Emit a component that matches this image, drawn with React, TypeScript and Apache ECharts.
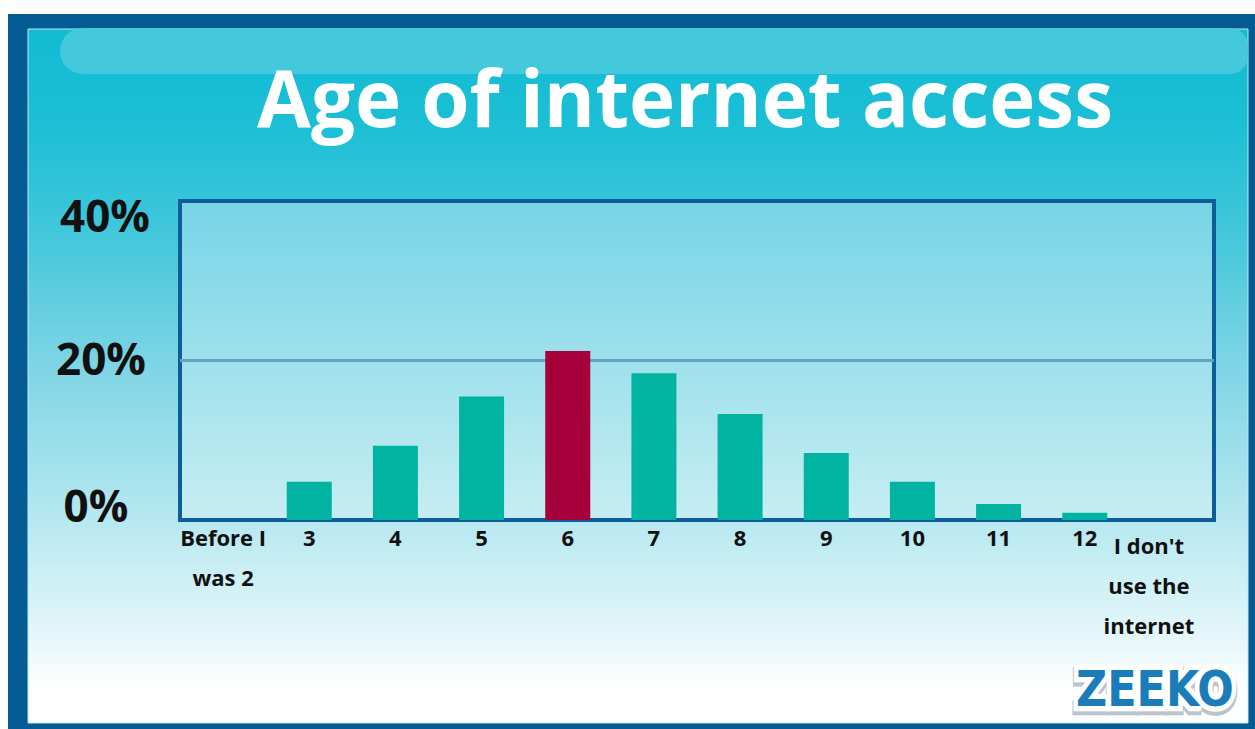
import React, { useEffect, useRef } from "react";
import * as echarts from "echarts";

const title = "Age of internet access";
const categories = [
  "Before I\nwas 2",
  "3",
  "4",
  "5",
  "6",
  "7",
  "8",
  "9",
  "10",
  "11",
  "12",
  "I don't\nuse the\ninternet",
];
const values = [0, 4.8, 9.3, 15.5, 21.2, 18.4, 13.3, 8.4, 4.8, 2.0, 0.9, 0];
const highlightIndex = 4;
const yTicks = [0, 20, 40];
const yTickLabels = ["0%", "20%", "40%"];
const logoText = "ZEEKO";

const TEAL = "#00b4a1";
const RED = "#a6003a";
const FRAME = "#055b93";
const PLOT_BORDER = "#0e5d9b";

export default function App() {
  const ref = useRef<HTMLDivElement>(null);

  useEffect(() => {
    if (!ref.current) return;
    const chart = echarts.init(ref.current, null, { renderer: "svg" });
    const richKeys = ["c", "b", "a"];
    const logoLayer = (dy: number, z: number, style: any) => ({
      type: "text",
      z,
      x: 1155,
      y: 689 + dy,
      scaleY: 1.15,
      style: {
        text: logoText,
        font: "bold 43px 'DejaVu Sans'",
        textAlign: "center",
        textVerticalAlign: "middle",
        ...style,
      },
      silent: true,
    });
    const option = {
      animation: false,
      backgroundColor: "#ffffff",
      graphic: [
        {
          type: "rect",
          z: -10,
          shape: { x: 8, y: 14, width: 1247, height: 715 },
          style: { fill: FRAME },
          silent: true,
        },
        {
          type: "rect",
          z: -9,
          shape: { x: 28, y: 29, width: 1220, height: 694 },
          style: {
            fill: {
              type: "linear",
              x: 0,
              y: 0,
              x2: 0,
              y2: 1,
              colorStops: [
                { offset: 0, color: "#12bbd3" },
                { offset: 0.14, color: "#1cbfd5" },
                { offset: 0.28, color: "#3fc6da" },
                { offset: 0.5, color: "#82d6e5" },
                { offset: 0.72, color: "#bae9f1" },
                { offset: 0.88, color: "#e6f7fa" },
                { offset: 0.95, color: "#ffffff" },
                { offset: 1, color: "#ffffff" },
              ],
            },
            stroke: "#bdeaf2",
            lineWidth: 1,
          },
          silent: true,
        },
        {
          type: "rect",
          z: -8,
          shape: { x: 60, y: 28, width: 1188, height: 46, r: [23, 18, 18, 23] },
          style: { fill: "#44c9dc" },
          silent: true,
        },
        {
          type: "text",
          z: 10,
          x: 685,
          y: 97,
          style: {
            text: title,
            fill: "#ffffff",
            font: "bold 78px 'Open Sans'",
            textAlign: "center",
            textVerticalAlign: "middle",
          },
          silent: true,
        },
        logoLayer(3, 9, { fill: "#b9c4cc", stroke: "#b9c4cc", lineWidth: 11 }),
        logoLayer(0, 10, { fill: "#ffffff", stroke: "#ffffff", lineWidth: 9 }),
        logoLayer(0, 11, { fill: "#1a7db9" }),
      ],
      grid: {
        left: 180,
        right: 41,
        top: 201,
        bottom: 209,
        show: true,
        backgroundColor: {
          type: "linear",
          x: 0,
          y: 0,
          x2: 0,
          y2: 1,
          colorStops: [
            { offset: 0, color: "#76d4e5" },
            { offset: 1, color: "#c7edf3" },
          ],
        },
        borderColor: PLOT_BORDER,
        borderWidth: 4,
      },
      xAxis: {
        type: "category",
        data: categories.map((c, i) =>
          i === categories.length - 1
            ? { value: c, textStyle: { padding: [8, 44, 0, 0] } }
            : c
        ),
        axisLine: { show: true, lineStyle: { color: PLOT_BORDER, width: 4 } },
        axisTick: { show: false },
        axisLabel: {
          interval: 0,
          color: "#111111",
          fontFamily: "'Open Sans'",
          fontWeight: "bold",
          fontSize: 22,
          lineHeight: 40,
          margin: -3,
        },
        splitLine: { show: false },
      },
      yAxis: {
        type: "value",
        min: 0,
        max: 40,
        interval: 20,
        axisLine: { show: false },
        axisTick: { show: false },
        splitLine: {
          show: true,
          lineStyle: {
            color: ["rgba(0,0,0,0)", "#5fa6c3", "rgba(0,0,0,0)"],
            width: 3,
          },
        },
        axisLabel: {
          align: "center",
          margin: 79,
          formatter: (v: number) => {
            const i = yTicks.indexOf(v);
            return `{${richKeys[i]}|${yTickLabels[i]}}`;
          },
          rich: {
            a: {
              color: "#111111",
              fontFamily: "'Open Sans'",
              fontWeight: "bold",
              fontSize: 44,
              padding: [28, 0, 0, 8],
            },
            b: {
              color: "#111111",
              fontFamily: "'Open Sans'",
              fontWeight: "bold",
              fontSize: 44,
              padding: [0, 0, 6, 0],
            },
            c: {
              color: "#111111",
              fontFamily: "'Open Sans'",
              fontWeight: "bold",
              fontSize: 44,
              padding: [0, 10, 30, 0],
            },
          },
        },
      },
      series: [
        {
          type: "bar",
          barWidth: 45,
          data: values.map((v, i) => ({
            value: v,
            itemStyle: { color: i === highlightIndex ? RED : TEAL },
          })),
        },
      ],
    };
    chart.setOption(option as any);
    return () => chart.dispose();
  }, []);

  return (
    <div
      ref={ref}
      style={{ position: "absolute", left: 0, top: 0, width: 1255, height: 729 }}
    />
  );
}
